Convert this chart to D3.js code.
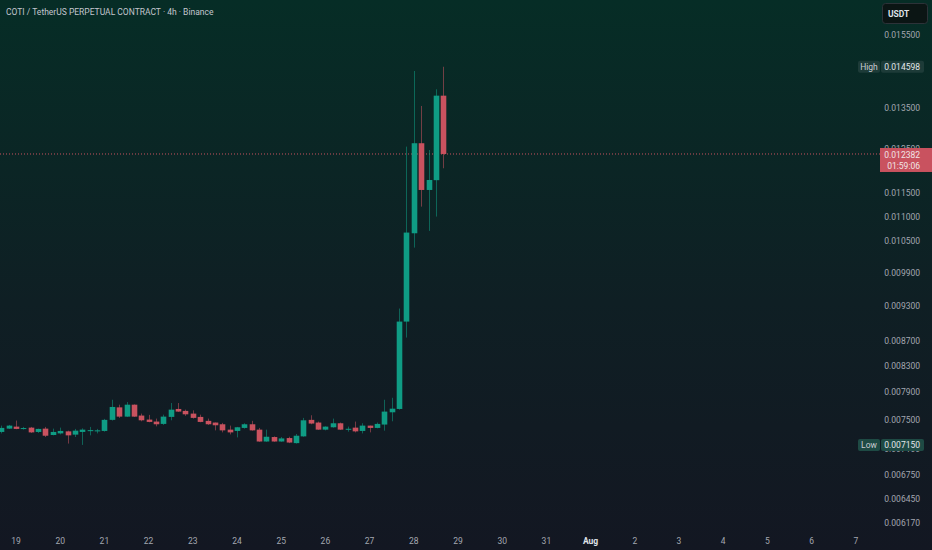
<!DOCTYPE html>
<html lang="en">
    <head>
        <meta charset="utf-8">
        <title>COTI / TetherUS 4h</title>
        <script type="text/javascript" src="https://d3js.org/d3.v7.min.js"></script>
        <style type="text/css">
            body { margin: 0; background: #131722; }
            svg text { font-family: Roboto, "Noto Sans", sans-serif; }
        </style>
    </head>
    <body>
        <script type="text/javascript">

            // Datos (velas de 4h)
            var startTime = Date.UTC(2025, 6, 18, 16);
            var endTime = Date.UTC(2025, 6, 28, 20);

            var opens = [0.007327, 0.007373, 0.007401, 0.007378, 0.007387, 0.007327, 0.007373, 0.007285, 0.007307, 0.007335,
                0.007290, 0.007327, 0.007349, 0.007335, 0.007341, 0.007496, 0.007675, 0.007542, 0.007714, 0.007557,
                0.007500, 0.007472, 0.007439, 0.007538, 0.007652, 0.007624, 0.007585, 0.007538, 0.007482, 0.007458,
                0.007434, 0.007359, 0.007341, 0.007383, 0.007434, 0.007359, 0.007196, 0.007257, 0.007196, 0.007243,
                0.007174, 0.007266, 0.007496, 0.007458, 0.007359, 0.007392, 0.007448, 0.007368, 0.007387, 0.007341,
                0.007415, 0.007383, 0.007430, 0.007604, 0.007652, 0.009024, 0.010661, 0.012636, 0.011569, 0.011785,
                0.013823];
            var highs = [0.007415, 0.007425, 0.007486, 0.007397, 0.007397, 0.007373, 0.007397, 0.007373, 0.007387, 0.007345,
                0.007369, 0.007377, 0.007397, 0.007369, 0.007510, 0.007786, 0.007714, 0.007752, 0.007718, 0.007585,
                0.007567, 0.007514, 0.007570, 0.007738, 0.007738, 0.007642, 0.007632, 0.007570, 0.007514, 0.007458,
                0.007453, 0.007415, 0.007397, 0.007448, 0.007482, 0.007383, 0.007359, 0.007266, 0.007257, 0.007261,
                0.007299, 0.007524, 0.007561, 0.007472, 0.007405, 0.007514, 0.007458, 0.007401, 0.007472, 0.007448,
                0.007415, 0.007458, 0.007786, 0.007815, 0.009249, 0.012555, 0.014482, 0.013557, 0.012476, 0.013990,
                0.014598];
            var lows = [0.007307, 0.007369, 0.007365, 0.007359, 0.007313, 0.007313, 0.007257, 0.007280, 0.007293, 0.007168,
                0.007257, 0.007150, 0.007280, 0.007307, 0.007331, 0.007486, 0.007524, 0.007538, 0.007538, 0.007476,
                0.007462, 0.007405, 0.007425, 0.007490, 0.007610, 0.007553, 0.007514, 0.007462, 0.007425, 0.007349,
                0.007321, 0.007293, 0.007252, 0.007373, 0.007345, 0.007192, 0.007192, 0.007192, 0.007192, 0.007174,
                0.007168, 0.007261, 0.007434, 0.007355, 0.007349, 0.007387, 0.007355, 0.007331, 0.007321, 0.007307,
                0.007321, 0.007377, 0.007345, 0.007476, 0.007642, 0.008756, 0.010376, 0.011211, 0.010709, 0.011002,
                0.012053];
            var closes = [0.007383, 0.007415, 0.007369, 0.007381, 0.007321, 0.007369, 0.007275, 0.007327, 0.007341, 0.007280,
                0.007345, 0.007359, 0.007352, 0.007349, 0.007496, 0.007681, 0.007542, 0.007714, 0.007542, 0.007490,
                0.007467, 0.007434, 0.007542, 0.007642, 0.007614, 0.007575, 0.007524, 0.007467, 0.007434, 0.007420,
                0.007349, 0.007321, 0.007392, 0.007434, 0.007349, 0.007196, 0.007261, 0.007196, 0.007238, 0.007182,
                0.007275, 0.007490, 0.007444, 0.007359, 0.007401, 0.007448, 0.007359, 0.007371, 0.007335, 0.007415,
                0.007383, 0.007439, 0.007614, 0.007656, 0.009024, 0.010675, 0.012636, 0.011569, 0.011789, 0.013823,
                0.012382];

            var priceTicks = [0.0155, 0.0135, 0.0125, 0.0115, 0.011, 0.0105, 0.0099, 0.0093, 0.0087, 0.0083,
                0.0079, 0.0075, 0.0071, 0.00675, 0.00645, 0.00617];
            var dayTicksStart = Date.UTC(2025, 6, 19);
            var dayTicksEnd = Date.UTC(2025, 7, 8);

            var title = "COTI / TetherUS PERPETUAL CONTRACT \u00b7 4h \u00b7 Binance";
            var lastPrice = 0.012382;
            var countdown = "01:59:06";
            var highPrice = 0.014598;
            var lowPrice = 0.00715;

            // Tamaño
            var w = 932;
            var h = 550;
            var up = "#0f9c84";
            var down = "#c9525f";

            var times = d3.utcHour.every(4).range(new Date(startTime), new Date(endTime));
            var candles = times.map(function(t, i) {
                return { t: t, o: opens[i], h: highs[i], l: lows[i], c: closes[i] };
            });

            // Escalas
            var xScale = d3.scaleUtc()
                .domain([new Date(dayTicksStart), new Date(Date.UTC(2025, 7, 7))])
                .range([16, 16 + 19 * 44.2]);
            var yScale = d3.scaleLog()
                .domain([0.0155, 0.00617])
                .range([35, 523]);
            var step = xScale(new Date(startTime + 4 * 3600 * 1000)) - xScale(new Date(startTime));
            var bodyW = step * 0.76;

            var svg = d3.select("body").append("svg")
                .attr("width", w)
                .attr("height", h);

            // Fondo degradado
            var grad = svg.append("defs").append("linearGradient")
                .attr("id", "bg").attr("x1", 0).attr("y1", 0).attr("x2", 0).attr("y2", 1);
            grad.append("stop").attr("offset", "0%").attr("stop-color", "#062d26");
            grad.append("stop").attr("offset", "55%").attr("stop-color", "#0f1f24");
            grad.append("stop").attr("offset", "100%").attr("stop-color", "#131722");
            svg.append("rect").attr("width", w).attr("height", h).attr("fill", "url(#bg)");

            // Titulo
            svg.append("text")
                .attr("x", 6).attr("y", 15)
                .attr("font-size", "8.5px")
                .attr("fill", "#c3c6ce")
                .text(title);

            // Linea de precio actual
            svg.append("line")
                .attr("x1", 0).attr("x2", 880)
                .attr("y1", yScale(lastPrice)).attr("y2", yScale(lastPrice))
                .attr("stroke", down)
                .attr("stroke-width", 1)
                .attr("stroke-dasharray", "1,2");

            // Velas
            var g = svg.append("g");
            g.selectAll("line.wick")
                .data(candles)
                .enter()
                .append("line")
                .attr("class", "wick")
                .attr("x1", function(d) { return Math.round(xScale(d.t)) + 0.5; })
                .attr("x2", function(d) { return Math.round(xScale(d.t)) + 0.5; })
                .attr("y1", function(d) { return yScale(d.h); })
                .attr("y2", function(d) { return yScale(d.l); })
                .attr("stroke", function(d) { return d.c >= d.o ? up : down; })
                .attr("stroke-opacity", 0.55)
                .attr("stroke-width", 1);

            g.selectAll("rect.body")
                .data(candles)
                .enter()
                .append("rect")
                .attr("class", "body")
                .attr("x", function(d) { return Math.round(xScale(d.t)) + 0.5 - bodyW / 2; })
                .attr("y", function(d) { return yScale(Math.max(d.o, d.c)); })
                .attr("width", bodyW)
                .attr("height", function(d) {
                    return Math.max(1, yScale(Math.min(d.o, d.c)) - yScale(Math.max(d.o, d.c)));
                })
                .attr("fill", function(d) { return d.c >= d.o ? up : down; });

            // Eje de precios
            svg.selectAll("text.ytick")
                .data(priceTicks)
                .enter()
                .append("text")
                .attr("class", "ytick")
                .attr("x", 920)
                .attr("y", function(d) { return yScale(d) + 3; })
                .attr("text-anchor", "end")
                .attr("font-size", "8.5px")
                .attr("fill", "#a3a7b0")
                .text(function(d) { return d.toFixed(6); });

            // Eje de fechas
            var days = d3.utcDay.range(new Date(dayTicksStart), new Date(dayTicksEnd));
            svg.selectAll("text.xtick")
                .data(days)
                .enter()
                .append("text")
                .attr("class", "xtick")
                .attr("x", function(d) { return xScale(d); })
                .attr("y", 544)
                .attr("text-anchor", "middle")
                .attr("font-size", "8.5px")
                .attr("font-weight", function(d) { return d.getUTCDate() === 1 ? "bold" : "normal"; })
                .attr("fill", function(d) { return d.getUTCDate() === 1 ? "#e0e3ea" : "#a3a7b0"; })
                .text(function(d) { return d.getUTCDate() === 1 ? d3.utcFormat("%b")(d) : d.getUTCDate(); });

            // Etiquetas High / Low
            function tag(label, value, y, bg) {
                svg.append("rect").attr("x", 858).attr("y", y - 6).attr("width", 22).attr("height", 12)
                    .attr("rx", 2).attr("fill", bg);
                svg.append("text").attr("x", 869).attr("y", y + 3).attr("text-anchor", "middle")
                    .attr("font-size", "8.5px").attr("fill", "#c9ccd3").text(label);
                svg.append("rect").attr("x", 881).attr("y", y - 6).attr("width", 43).attr("height", 12)
                    .attr("rx", 2).attr("fill", bg);
                svg.append("text").attr("x", 920).attr("y", y + 3).attr("text-anchor", "end")
                    .attr("font-size", "8.5px").attr("fill", "#e3e6ea").text(value.toFixed(6));
            }
            tag("High", highPrice, yScale(highPrice), "#1d3b38");
            tag("Low", lowPrice, yScale(lowPrice), "#1e4a44");

            // Precio actual
            var py = yScale(lastPrice);
            svg.append("rect").attr("x", 880).attr("y", py - 6).attr("width", 52).attr("height", 24)
                .attr("fill", down);
            svg.append("text").attr("x", 920).attr("y", py + 4).attr("text-anchor", "end")
                .attr("font-size", "8.5px").attr("fill", "#f1e4e6").text(lastPrice.toFixed(6));
            svg.append("text").attr("x", 920).attr("y", py + 15).attr("text-anchor", "end")
                .attr("font-size", "8.5px").attr("fill", "#f1e4e6").text(countdown);

            // Moneda
            svg.append("rect").attr("x", 882.5).attr("y", 3.5).attr("width", 45).attr("height", 20)
                .attr("rx", 3).attr("fill", "#0b1514").attr("stroke", "#2c3238");
            svg.append("text").attr("x", 888).attr("y", 16.5)
                .attr("font-size", "8.5px").attr("font-weight", "bold").attr("fill", "#dfe2e8").text("USDT");

        </script>
    </body>
</html>
